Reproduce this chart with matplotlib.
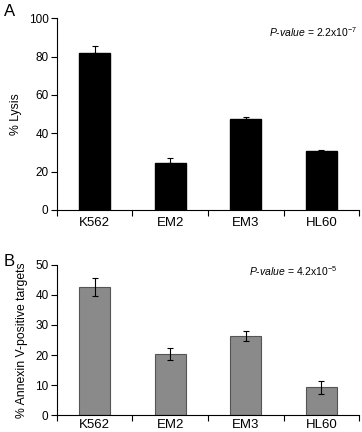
import matplotlib
matplotlib.use("Agg")
import matplotlib.pyplot as plt
import numpy as np

plt.rcParams['font.family'] = ['Liberation Sans', 'DejaVu Sans']
plt.rcParams['mathtext.fontset'] = 'custom'
plt.rcParams['mathtext.rm'] = 'Liberation Sans'
plt.rcParams['mathtext.it'] = 'Liberation Sans:italic'

categories = ["K562", "EM2", "EM3", "HL60"]
lysis = [82, 24.5, 47.5, 30.5]
lysis_err = [3.5, 2.5, 1.0, 0.5]
annexin = [42.5, 20.5, 26.3, 9.3]
annexin_err = [3.0, 2.0, 1.6, 2.2]
a_ticks = [0, 20, 40, 60, 80, 100]
b_ticks = [0, 10, 20, 30, 40, 50]

fig = plt.figure(figsize=(3.62, 4.32), dpi=100)
axA = fig.add_axes([0.157, 0.514, 0.835, 0.444])
axB = fig.add_axes([0.157, 0.039, 0.835, 0.348])

x = np.arange(len(categories))
W = 0.41

def style(ax, ticks, ylabel, pad):
    ax.set_xlim(-0.5, len(categories) - 0.5)
    ax.set_ylim(ticks[0], ticks[-1])
    ax.set_yticks(ticks)
    ax.set_xticks(x)
    ax.set_xticklabels(categories, fontsize=9.5)
    ax.set_xticks(np.arange(len(categories) + 1) - 0.5, minor=True)
    ax.tick_params(axis='x', which='major', length=0, pad=pad)
    ax.tick_params(axis='x', which='minor', length=4, width=0.8, direction='out')
    ax.tick_params(axis='y', length=4, width=0.8, direction='out', labelsize=8.5, pad=2)
    for s in ['top', 'right']:
        ax.spines[s].set_visible(False)
    for s in ['left', 'bottom']:
        ax.spines[s].set_linewidth(0.8)
    ax.set_ylabel(ylabel, fontsize=8.8, labelpad=5)

axA.bar(x, lysis, W, color='black', edgecolor='black', zorder=2)
axA.errorbar(x, lysis, yerr=[np.zeros(len(lysis)), lysis_err], fmt='none',
             ecolor='black', elinewidth=0.8, capsize=2, capthick=0.8, zorder=1)
style(axA, a_ticks, "% Lysis", 5)
axA.text(0.995, 0.925, r"$\it{P\text{-}value}$ = 2.2x10$^{-7}$", transform=axA.transAxes,
         ha='right', va='center', fontsize=7.5)

axB.bar(x, annexin, W, color='#8a8a8a', edgecolor='#555555', linewidth=0.8, zorder=1)
axB.errorbar(x, annexin, yerr=annexin_err, fmt='none',
             ecolor='black', elinewidth=0.8, capsize=2, capthick=0.8, zorder=2)
style(axB, b_ticks, "% Annexin V-positive targets", 3)
axB.text(0.927, 0.96, r"$\it{P\text{-}value}$ = 4.2x10$^{-5}$", transform=axB.transAxes,
         ha='right', va='center', fontsize=7.5)

fig.text(4/362, 1 - 11/432, "A", fontsize=12, va='center', ha='left')
fig.text(4/362, 1 - 262/432, "B", fontsize=12, va='center', ha='left')

fig.savefig("out.png", dpi=100)
